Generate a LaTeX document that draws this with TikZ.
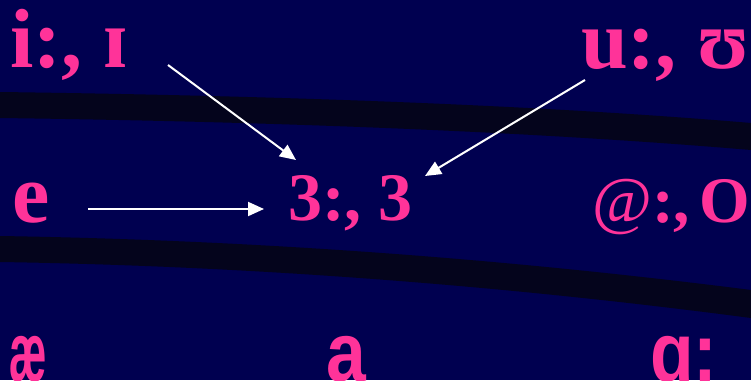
\documentclass[tikz,border=0pt]{standalone}
\usepackage{fontspec}
\setmainfont{Liberation Serif}
\newfontfamily\ipasans[FakeStretch=0.85]{Liberation Sans}
\newfontfamily\ipanarrow[FakeStretch=0.5]{Liberation Sans}
\usetikzlibrary{arrows.meta}
\definecolor{slidebg}{RGB}{0,0,80}
\definecolor{band}{RGB}{4,4,28}
\definecolor{vowelpink}{RGB}{255,51,153}

\begin{document}
\begin{tikzpicture}[x=1pt, y=-1pt,
  vowel/.style={text=vowelpink, font=\fontsize{84}{84}\selectfont\bfseries, inner sep=0pt, anchor=base west},
  central/.style={vowel, font=\fontsize{65}{65}\selectfont\bfseries},
  low/.style={text=vowelpink, font=\fontsize{84}{84}\selectfont\ipasans\bfseries, inner sep=0pt, anchor=base west},
  arr/.style={-{Triangle[length=16pt,width=14pt]}, white, line width=2pt}
]
\useasboundingbox (0,0) rectangle (751,380);
\clip (0,0) rectangle (751,380);
\fill[slidebg] (0,0) rectangle (751,380);
% dark bands across the slide
\fill[band] (0,92) .. controls (300,96) and (550,106) .. (751,123)
  -- (751,150) .. controls (550,133) and (300,122) .. (0,118) -- cycle;
\fill[band] (0,236) .. controls (250,240) and (500,258) .. (751,290)
  -- (751,318) .. controls (500,285) and (250,266) .. (0,262) -- cycle;

\node[vowel] (ii) at (10,67) {i:, ɪ};
\node[vowel] (uu) at (581,68) {u:, ʊ};
\node[vowel] (e) at (12,222) {e};
\node[central, font=\fontsize{68}{68}\selectfont\bfseries] (er) at (288,220) {3:, 3};
\node[central] (schwa) at (592,222) {\mdseries @\bfseries:,\hspace{0.15em}O};
\node[low] (ae) at (9,381) {\ipanarrow\bfseries æ};
\node[low] (a) at (326,381) {a};
\node[low] (aa) at (650,381) {ɑ:};

\coordinate (ii-out) at (168,65);
\coordinate (uu-out) at (585,80);
\coordinate (e-out) at (88,209);
\coordinate (er-in1) at (296,160);
\coordinate (er-in2) at (425,176);
\coordinate (er-in3) at (264,209);
\draw[arr] (ii-out) -- (er-in1);
\draw[arr] (uu-out) -- (er-in2);
\draw[arr] (e-out) -- (er-in3);
\end{tikzpicture}
\end{document}
